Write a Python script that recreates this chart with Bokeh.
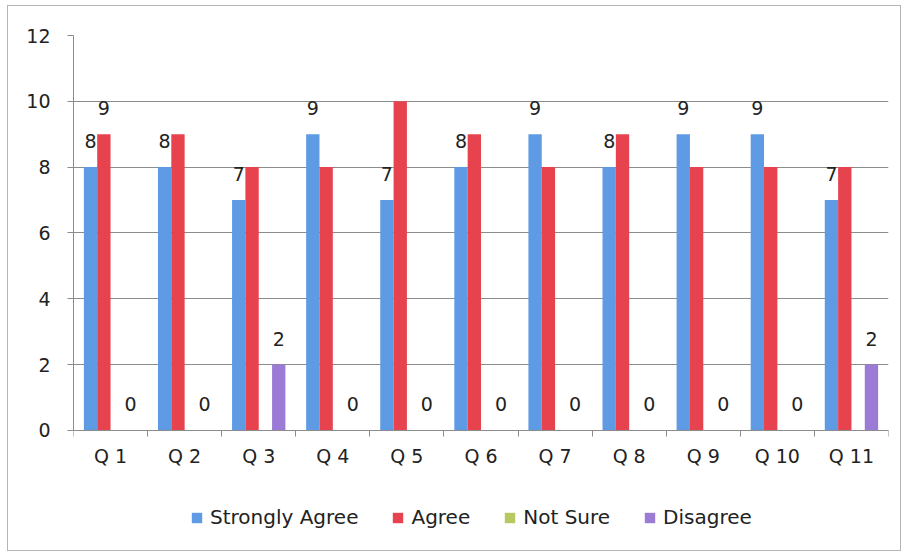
from bokeh.plotting import figure
from bokeh.models import ColumnDataSource, FixedTicker, Legend, LegendItem, Range1d
from bokeh.core.properties import value
from bokeh.embed import file_html
from bokeh.resources import INLINE

categories = ["Q 1", "Q 2", "Q 3", "Q 4", "Q 5", "Q 6", "Q 7", "Q 8", "Q 9", "Q 10", "Q 11"]
strongly_agree = [8, 8, 7, 9, 7, 8, 9, 8, 9, 9, 7]
agree = [9, 9, 8, 8, 10, 9, 8, 9, 8, 8, 8]
not_sure = [0, 0, 0, 0, 0, 0, 0, 0, 0, 0, 0]
disagree = [0, 0, 2, 0, 0, 0, 0, 0, 0, 0, 2]
series_names = ["Strongly Agree", "Agree", "Not Sure", "Disagree"]
colors = ["#5E9BE4", "#E6434F", "#B8C860", "#9B7BD6"]
y_ticks = [0, 2, 4, 6, 8, 10, 12]
# which agree labels are visible in the original (others hidden by overlap)
agree_label_shown = [True] + [False] * 10

FONT = "DejaVu Sans"
TXT = "#222222"
x_pos = list(range(1, len(categories) + 1))

p = figure(width=894, height=546, output_backend="svg", toolbar_location=None,
           x_range=Range1d(0.5, len(categories) + 0.5), y_range=Range1d(-3.5, 12),
           min_border_left=65, min_border_right=14, min_border_top=29, min_border_bottom=7)
p.styles = {"border": "1px solid #b5b5b5", "margin-left": "7px", "margin-top": "5px"}
p.outline_line_color = None
p.background_fill_color = "white"

bar_w = 0.18
offsets = [-1.5 * bar_w, -0.5 * bar_w, 0.5 * bar_w, 1.5 * bar_w]
all_series = [strongly_agree, agree, not_sure, disagree]
renderers = []
for vals, off, col in zip(all_series, offsets, colors):
    src = ColumnDataSource(dict(x=[xx + off for xx in x_pos], top=vals))
    r = p.vbar(x="x", top="top", width=bar_w, bottom=0, source=src,
               fill_color=col, line_color=None)
    renderers.append(r)

# data labels
lab_kw = dict(text_align="center", text_baseline="bottom", y_offset=-19,
              text_font=value(FONT), text_font_size="19px", text_color=TXT)
sa_src = ColumnDataSource(dict(x=[xx + offsets[0] for xx in x_pos], y=strongly_agree,
                               t=[str(v) for v in strongly_agree]))
p.text(x="x", y="y", text="t", source=sa_src, **lab_kw)
ag_x = [xx + offsets[1] for xx, s in zip(x_pos, agree_label_shown) if s]
ag_y = [v for v, s in zip(agree, agree_label_shown) if s]
ag_src = ColumnDataSource(dict(x=ag_x, y=ag_y, t=[str(v) for v in ag_y]))
p.text(x="x", y="y", text="t", source=ag_src, **lab_kw)
di_src = ColumnDataSource(dict(x=[xx + offsets[3] for xx in x_pos], y=disagree,
                               t=[str(v) for v in disagree]))
p.text(x="x", y="y", text="t", source=di_src, **lab_kw)

# axes
p.xaxis.fixed_location = 0
p.xaxis.ticker = FixedTicker(ticks=x_pos, minor_ticks=[xx + 0.5 for xx in range(0, len(categories) + 1)])
p.xaxis.major_label_overrides = {xx: c for xx, c in zip(x_pos, categories)}
p.xaxis.major_tick_out = 0
p.xaxis.major_tick_in = 0
p.xaxis.minor_tick_out = 6
p.xaxis.minor_tick_in = 0
p.xaxis.minor_tick_line_color = "#8c8c8c"
p.xaxis.axis_line_color = "#8c8c8c"
p.xaxis.major_label_standoff = 9
p.xaxis.major_label_text_font = FONT
p.xaxis.major_label_text_font_size = "19px"
p.xaxis.major_label_text_color = TXT

p.yaxis.bounds = (0, 12)
p.yaxis.ticker = FixedTicker(ticks=y_ticks)
p.yaxis.major_tick_out = 6
p.yaxis.major_tick_in = 0
p.yaxis.minor_tick_line_color = None
p.yaxis.major_tick_line_color = "#8c8c8c"
p.yaxis.axis_line_color = "#8c8c8c"
p.yaxis.major_label_standoff = 17
p.yaxis.major_label_text_font = FONT
p.yaxis.major_label_text_font_size = "19px"
p.yaxis.major_label_text_color = TXT

p.xgrid.grid_line_color = None
p.ygrid.ticker = FixedTicker(ticks=y_ticks)
p.ygrid.grid_line_color = "#8c8c8c"
p.ygrid.grid_line_width = 1

legend = Legend(items=[LegendItem(label=n, renderers=[r]) for n, r in zip(series_names, renderers)],
                orientation="horizontal", location=(117, 16),
                label_text_font=FONT, label_text_font_size="20px", label_text_color=TXT,
                glyph_width=13, glyph_height=13, spacing=33, label_standoff=7,
                border_line_color=None, background_fill_alpha=0, margin=0, padding=0)
p.add_layout(legend)

open("out.html", "w").write(file_html(p, INLINE))
